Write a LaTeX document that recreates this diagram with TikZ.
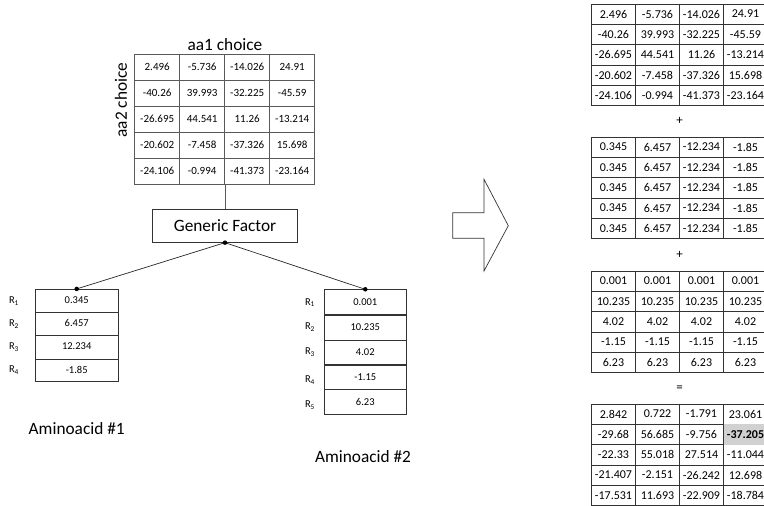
\documentclass[tikz,border=0pt]{standalone}
\usepackage{fontspec}
\setmainfont{Carlito}
\begin{document}
\begin{tikzpicture}[x=1pt,y=-1pt,
  mcell/.style={draw=black!65,line width=0.6pt,minimum width=45pt,minimum height=26pt,inner sep=0pt,font=\fontsize{11}{12}\selectfont},
  rcell/.style={draw=black!80,line width=0.8pt,minimum width=44pt,minimum height=20.3pt,inner sep=0pt,font=\fontsize{12}{13}\selectfont},
  acell/.style={draw=black!80,line width=0.8pt,minimum width=82.7pt,inner sep=0pt,font=\fontsize{10.5}{12}\selectfont},
  rlab/.style={font=\fontsize{10.5}{12}\selectfont,inner sep=0pt},
  bigtxt/.style={font=\fontsize{17.3}{19}\selectfont,inner sep=0pt},
  opsym/.style={font=\fontsize{13}{14}\selectfont,inner sep=0pt},
  dot/.style={circle,fill=black,inner sep=0pt,minimum size=4.5pt},
  conn/.style={draw=black!85,line width=0.7pt}]
\useasboundingbox (0,0) rectangle (764,506);

% left matrix
\foreach \row [count=\r] in {{2.496,-5.736,-14.026,24.91},{-40.26,39.993,-32.225,-45.59},{-26.695,44.541,11.26,-13.214},{-20.602,-7.458,-37.326,15.698},{-24.106,-0.994,-41.373,-23.164}}{
  \foreach \v [count=\c] in \row {
    \node[mcell] (L-\r-\c) at ({134.7+45*(\c-0.5)},{54+26*(\r-0.5)}) {\v};
  }
}
\node[bigtxt] (aa1) at (225,45) {aa1 choice};
\node[bigtxt,rotate=90] (aa2) at (121,100) {aa2 choice};

% generic factor
\node[draw=black!80,line width=0.7pt,minimum width=145.4pt,minimum height=33pt,inner sep=0pt,font=\fontsize{17.3}{19}\selectfont] (gf) at (225,225.8) {Generic Factor};
\draw[draw=black!65,line width=0.7pt] (L-5-2.south east) -- (L-5-2.south east |- gf.north);

% aminoacid 1
\foreach \v/\h/\yc [count=\r] in {0.345/23.4/301, 6.457/23/324.2, 12.234/23.3/347.3, -1.85/22.7/370.3}{
  \node[acell,minimum height=\h pt] (p-\r) at (76.7,\yc) {\raisebox{1.5pt}{\v}};
  \node[rlab] (pl-\r) at (14,\yc) {R\textsubscript{\r}};
}
% aminoacid 2
\foreach \v/\yc [count=\r] in {0.001/302.2, 10.235/327.5, 4.02/352.5, -1.15/377.2, 6.23/401.8}{
  \node[acell,minimum height=25pt] (q-\r) at (365.3,\yc) {\v};
}
\foreach \yc [count=\r] in {302.7,327.3,352.3,380,405}{
  \node[rlab] (ql-\r) at (310,\yc) {R\textsubscript{\r}};
}
\node[bigtxt] (am1) at (76.7,428.3) {Aminoacid \#1};
\node[bigtxt] (am2) at (363,457) {Aminoacid \#2};

% connectors
\draw[conn] (gf.south) -- (p-1.north);
\draw[conn] (gf.south) -- (q-1.north);
\node[dot] at (gf.south) {};
\node[dot] at (p-1.north) {};
\node[dot] at (q-1.north) {};

% big arrow
\draw[draw=black!80,line width=0.7pt,line join=miter] (452.7,212.7) -- (484,212.7) -- (484,179.3) -- (508.3,225.7) -- (484,271) -- (484,238.3) -- (452.7,238.3) -- cycle;

% right tables
\foreach \row [count=\r] in {{2.496,-5.736,-14.026,24.91},{-40.26,39.993,-32.225,-45.59},{-26.695,44.541,11.26,-13.214},{-20.602,-7.458,-37.326,15.698},{-24.106,-0.994,-41.373,-23.164}}{
  \foreach \v [count=\c] in \row {
    \node[rcell] (A-\r-\c) at ({591.5+44*(\c-0.5)},{4+20.3*(\r-0.5)}) {\v};
  }
}
\node[opsym] (plus1) at (679.5,121) {+};
\foreach \r in {1,...,5}{
  \foreach \v [count=\c] in {0.345,6.457,-12.234,-1.85}{
    \node[rcell] (B-\r-\c) at ({591.5+44*(\c-0.5)},{137+20.3*(\r-0.5)}) {\v};
  }
}
\node[opsym] (plus2) at (679.5,255) {+};
\foreach \v [count=\r] in {0.001,10.235,4.02,-1.15,6.23}{
  \foreach \c in {1,...,4}{
    \node[rcell] (C-\r-\c) at ({591.5+44*(\c-0.5)},{271+20.3*(\r-0.5)}) {\v};
  }
}
\node[opsym] (eq) at (679.5,389) {=};
\foreach \row [count=\r] in {{2.842,0.722,-1.791,23.061},{-29.68,56.685,-9.756,{}},{-22.33,55.018,27.514,-11.044},{-21.407,-2.151,-26.242,12.698},{-17.531,11.693,-22.909,-18.784}}{
  \foreach \v [count=\c] in \row {
    \node[rcell] (D-\r-\c) at ({591.5+44*(\c-0.5)},{404+20.3*(\r-0.5)}) {\v};
  }
}
\fill[black!18] ([xshift=0.4pt,yshift=-0.4pt]D-2-4.north west) rectangle ([xshift=-0.4pt,yshift=0.4pt]D-2-4.south east);
\node[font=\fontsize{12}{13}\selectfont\bfseries,inner sep=0pt] (hl) at (D-2-4.center) {-37.205};
\end{tikzpicture}
\end{document}
